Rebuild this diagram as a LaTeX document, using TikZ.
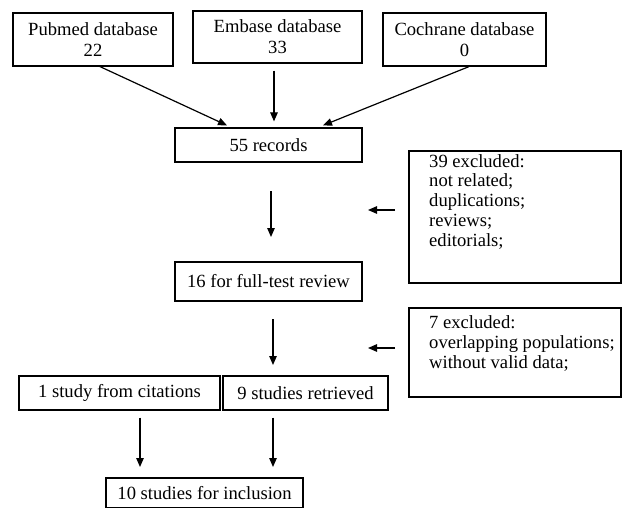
\documentclass[tikz,border=0pt]{standalone}
\usepackage{fontspec}
\setmainfont{Liberation Serif}
\usetikzlibrary{arrows.meta,calc}
\begin{document}
\begin{tikzpicture}[x=1pt,y=-1pt,
  box/.style={draw=black, line width=1.2pt, inner sep=0pt, align=center,
    font=\fontsize{18.6}{21}\selectfont},
  txt/.style={inner sep=0pt, align=left, anchor=north west,
    font=\fontsize{18.6}{19.8}\selectfont},
  arr/.style={line width=1.2pt, -{Triangle[length=9pt,width=7.5pt]}}]
\useasboundingbox (0,0) rectangle (623,508);
% boxes
\node[box, minimum width=160, minimum height=53] (pub) at (93,39.5) {Pubmed database\\22};
\node[box, minimum width=169, minimum height=52] (emb) at (277.5,37) {Embase database\\33};
\node[box, minimum width=163, minimum height=53] (coc) at (464.5,39.5) {Cochrane database\\0};
\node[box, minimum width=187, minimum height=34] (rec) at (268.5,145) {55 records};
\node[box, minimum width=187, minimum height=39] (full) at (268.5,281.5) {16 for full-test review};
\node[box, minimum width=212, minimum height=132] (ex1) at (515,217) {};
\node[txt] (ex1t) at (429,154) {39 excluded:\\not related;\\duplications;\\reviews;\\editorials;};
\node[box, minimum width=212, minimum height=89] (ex2) at (515,352.5) {};
\node[txt] (ex2t) at (429,315.5) {7 excluded:\\overlapping populations;\\without valid data;};
\node[box, minimum width=201, minimum height=34] (cit) at (119.5,393) {1 study from citations};
\node[box, minimum width=165, minimum height=34] (ret) at (305.5,393) {9 studies retrieved};
\node[box, minimum width=197, minimum height=30] (inc) at (204.5,493) {10 studies for inclusion};
% free arrow ends
\coordinate (a1s) at (271,191); \coordinate (a1e) at (271,237);
\coordinate (a2s) at (273,319); \coordinate (a2e) at (273,365);
\coordinate (l1s) at (395,210); \coordinate (l1e) at (368,210);
\coordinate (l2s) at (395,348); \coordinate (l2e) at (368,348);
\coordinate (b1e) at (140,467); \coordinate (b2e) at (273,467);
% connectors
\draw[arr] ($(pub.south)+(7,0)$) -- ($(rec.north)+(-41.5,-2)$);
\draw[arr] ($(emb.south)+(-3.5,7)$) -- ($(rec.north)+(5.5,-6)$);
\draw[arr] ($(coc.south)+(4.5,0)$) -- ($(rec.north)+(54.5,-2)$);
\draw[arr] (a1s) -- (a1e);
\draw[arr] (a2s) -- (a2e);
\draw[arr] (l1s) -- (l1e);
\draw[arr] (l2s) -- (l2e);
\draw[arr] ($(cit.south)+(20.5,7)$) -- (b1e);
\draw[arr] ($(ret.south)+(-32.5,7)$) -- (b2e);
\end{tikzpicture}
\end{document}
